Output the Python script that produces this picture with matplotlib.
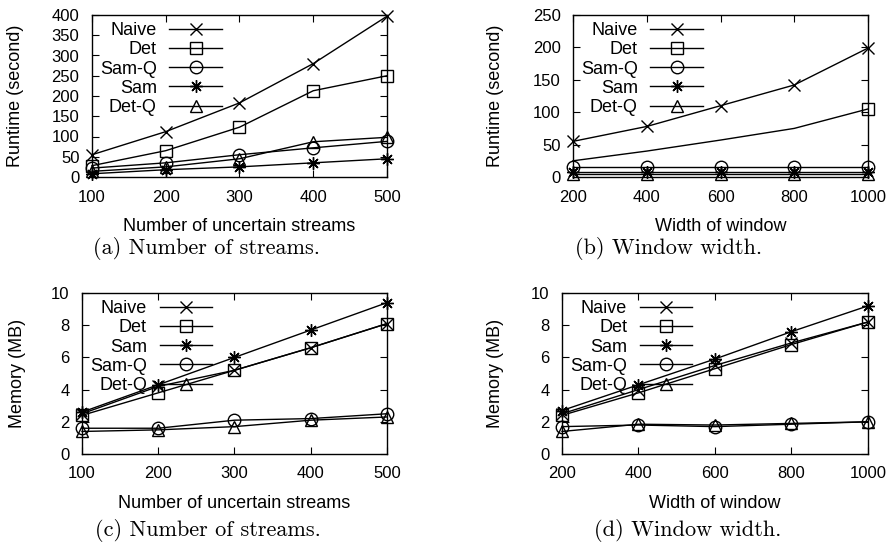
import matplotlib
matplotlib.use("Agg")
import matplotlib.pyplot as plt

# (a) runtime vs number of streams
streams = [100, 200, 300, 400, 500]
a_naive = [55, 112, 183, 280, 397]
a_det = [28, 65, 123, 213, 250]
a_samq = [22, 35, 55, 72, 88]
a_sam = [8, 18, 25, 35, 45]
a_detq = [14, 25, 45, 87, 98]

# (b) runtime vs window width
widths = [200, 400, 600, 800, 1000]
b_naive = [55, 78, 110, 142, 199]
b_det = [25, 40, 57, 75, 105]
b_samq = [16, 16, 16, 16, 16]
b_sam = [8, 8, 8, 8, 8]
b_detq = [4, 4, 4, 4, 4]

# (c) memory vs number of streams
c_naive = [2.5, 4.2, 5.2, 6.6, 8.1]
c_det = [2.4, 3.8, 5.2, 6.6, 8.1]
c_sam = [2.6, 4.3, 6.0, 7.7, 9.4]
c_samq = [1.6, 1.6, 2.1, 2.2, 2.5]
c_detq = [1.4, 1.5, 1.7, 2.1, 2.3]

# (d) memory vs window width
d_naive = [2.5, 4.0, 5.5, 6.9, 8.2]
d_det = [2.4, 3.8, 5.3, 6.8, 8.2]
d_sam = [2.7, 4.3, 5.9, 7.6, 9.2]
d_samq = [1.7, 1.8, 1.7, 1.85, 2.0]
d_detq = [1.4, 1.85, 1.8, 1.9, 2.0]

plt.rcParams['font.family'] = ['Liberation Sans', 'DejaVu Sans']
plt.rcParams['font.size'] = 12

W, H = 895, 545
fig = plt.figure(figsize=(W / 100, H / 100), dpi=100)

def axes_px(left, top, right, bottom):
  return fig.add_axes([left / W, 1 - bottom / H, (right - left) / W, (bottom - top) / H])

STY = {
  "Naive": dict(marker="x"),
  "Det": dict(marker="s", fillstyle="none"),
  "Sam-Q": dict(marker="o", fillstyle="none"),
  "Sam": dict(marker=(8, 2, 0)),
  "Det-Q": dict(marker="^", fillstyle="none"),
}

def panel(ax, x, series, xlim, ylim, yticks, xlabel, ylabel, ylab_x, leg_x, markevery=None):
  for name, y in series:
    kw = dict(STY[name])
    if markevery and name in markevery:
      kw["markevery"] = markevery[name]
    ax.plot(x, y, color="black", lw=1, ms=9, mew=1, label=name, clip_on=False, **kw)
  ax.set_xlim(*xlim)
  ax.set_ylim(*ylim)
  ax.set_xticks(x)
  ax.set_yticks(yticks)
  ax.tick_params(direction="in", top=True, right=True, length=5, width=0.8, pad=9, labelsize=12)
  for s in ax.spines.values():
    s.set_linewidth(1)
  ax.set_xlabel(xlabel, labelpad=10, fontsize=13)
  ax.set_ylabel(ylabel, fontsize=13)
  ax.yaxis.set_label_coords(ylab_x, 0.5)
  ax.legend(loc="upper right", bbox_to_anchor=(leg_x, 0.955), frameon=False, markerfirst=False,
            handlelength=2.9, handletextpad=0.7, labelspacing=0.12, borderpad=0, borderaxespad=0,
            fontsize=13)

axa = axes_px(92, 15, 387, 177)
panel(axa, streams, [("Naive", a_naive), ("Det", a_det), ("Sam-Q", a_samq), ("Sam", a_sam), ("Det-Q", a_detq)],
      (100, 500), (0, 400), range(0, 401, 50), "Number of uncertain streams", "Runtime (second)", -0.23, 0.44)

axb = axes_px(573, 15, 868, 177)
panel(axb, widths, [("Naive", b_naive), ("Det", b_det), ("Sam-Q", b_samq), ("Sam", b_sam), ("Det-Q", b_detq)],
      (200, 1000), (0, 250), range(0, 251, 50), "Width of window", "Runtime (second)", -0.234, 0.44,
      markevery={"Det": [4]})

axc = axes_px(82, 293, 387, 454)
panel(axc, streams, [("Naive", c_naive), ("Det", c_det), ("Sam", c_sam), ("Sam-Q", c_samq), ("Det-Q", c_detq)],
      (100, 500), (0, 10), range(0, 11, 2), "Number of uncertain streams", "Memory (MB)", -0.184, 0.426)

axd = axes_px(562, 293, 868, 454)
panel(axd, widths, [("Naive", d_naive), ("Det", d_det), ("Sam", d_sam), ("Sam-Q", d_samq), ("Det-Q", d_detq)],
      (200, 1000), (0, 10), range(0, 11, 2), "Width of window", "Memory (MB)", -0.19, 0.425)

captions = [("(a) Number of streams.", 207, 249), ("(b) Window width.", 669, 249),
            ("(c) Number of streams.", 208, 530), ("(d) Window width.", 688, 530)]
for txt, cx, cy in captions:
  fig.text(cx / W, 1 - cy / H, txt, ha="center", va="center", fontsize=16, family="cmr10")

fig.savefig("out.png", dpi=100)
